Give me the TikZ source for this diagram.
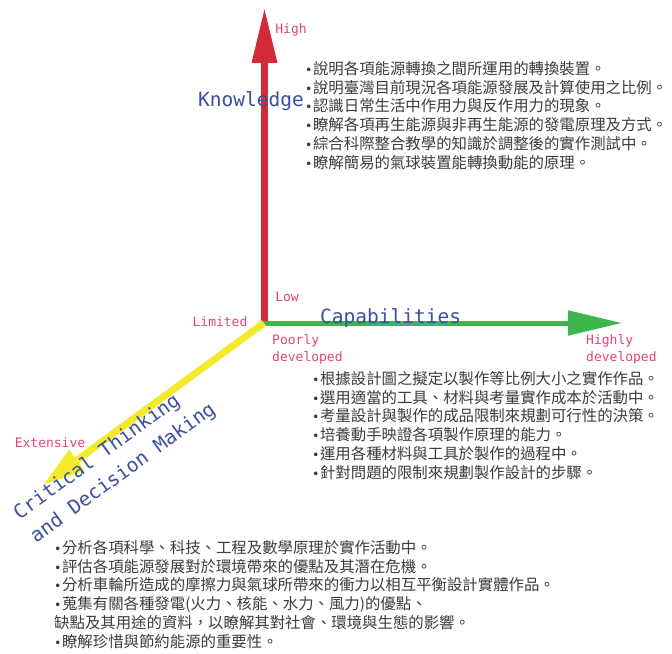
\documentclass[tikz,border=0pt]{standalone}
\usepackage{fontspec}
\usetikzlibrary{arrows.meta}
\newfontfamily\cjk{Noto Sans CJK TC}
\newfontfamily\labfont{DejaVu Sans Mono}
\newfontfamily\bulfont{DejaVu Sans}
\newcommand\bul{{\bulfont\fontsize{12.5bp}{12.5bp}\selectfont •}\hspace{0.5bp}}
\definecolor{axred}{HTML}{D42A36}
\definecolor{axgreen}{HTML}{3DB54A}
\definecolor{axyellow}{HTML}{F2EA2A}
\definecolor{lblpink}{HTML}{E0457F}
\definecolor{axblue}{HTML}{3A4F9E}
\definecolor{txtgray}{HTML}{3C3C3C}
\begin{document}
\begin{tikzpicture}[x=1bp,y=-1bp,
  tick/.style={font=\labfont\fontsize{13bp}{17.5bp}\selectfont, text=lblpink, inner sep=0},
  axtitle/.style={font=\labfont\fontsize{19.5bp}{28bp}\selectfont, text=axblue, inner sep=0},
  list/.style={font=\cjk\fontsize{15.4bp}{18.8bp}\selectfont, text=txtgray, align=left, inner sep=0, anchor=north west}]
\useasboundingbox[fill=white] (0,0) rectangle (672,654);
\coordinate (O) at (264,323);
\coordinate (kbase) at (264.5,326);
\coordinate (cbase) at (262,323);
\coordinate (ktip) at (264.5,8);
\coordinate (ctip) at (622,323);
\coordinate (dtip) at (43,485);
\draw[axred, line width=6.5bp, -{Triangle[length=55bp,width=24bp]}] (kbase) -- (ktip);
\draw[axgreen, line width=5bp, -{Triangle[length=54bp,width=24bp]}] (cbase) -- (ctip);
\draw[axyellow, line width=7bp, -{Triangle[length=42bp,width=24bp]}] (O) -- (dtip);

\node[tick] (high) at (291,30) {High};
\node[tick] (low) at (287,297) {Low};
\node[tick] (limited) at (220,322) {Limited};
\node[tick, align=left, anchor=north west] (poor) at (272,334) {Poorly\\developed};
\node[tick, align=left, anchor=north west] (highly) at (586,334) {Highly\\developed};
\node[tick] (ext) at (50,443) {Extensive};
\node[axtitle, anchor=base west] (know) at (198,107) {Knowledge};
\node[axtitle, anchor=base west] (cap) at (320,323) {Capabilities};
\node[axtitle, align=left, rotate=36] (crit) at (115,462) {Critical Thinking\\and Decision Making};

\node[list] (klist) at (305,61) {\bul 說明各項能源轉換之間所運用的轉換裝置。\\
\bul 說明臺灣目前現況各項能源發展及計算使用之比例。\\
\bul 認識日常生活中作用力與反作用力的現象。\\
\bul 瞭解各項再生能源與非再生能源的發電原理及方式。\\
\bul 綜合科際整合教學的知識於調整後的實作測試中。\\
\bul 瞭解簡易的氣球裝置能轉換動能的原理。};

\node[list] (clist) at (312,371) {\bul 根據設計圖之擬定以製作等比例大小之實作作品。\\
\bul 選用適當的工具、材料與考量實作成本於活動中。\\
\bul 考量設計與製作的成品限制來規劃可行性的決策。\\
\bul 培養動手映證各項製作原理的能力。\\
\bul 運用各種材料與工具於製作的過程中。\\
\bul 針對問題的限制來規劃製作設計的步驟。};

\node[list] (dlist) at (54,540) {\bul 分析各項科學、科技、工程及數學原理於實作活動中。\\
\bul 評估各項能源發展對於環境帶來的優點及其潛在危機。\\
\bul 分析車輪所造成的摩擦力與氣球所帶來的衝力以相互平衡設計實體作品。\\
\bul 蒐集有關各種發電(火力、核能、水力、風力)的優點、\\
缺點及其用途的資料，以瞭解其對社會、環境與生態的影響。\\
\bul 瞭解珍惜與節約能源的重要性。};
\end{tikzpicture}
\end{document}
